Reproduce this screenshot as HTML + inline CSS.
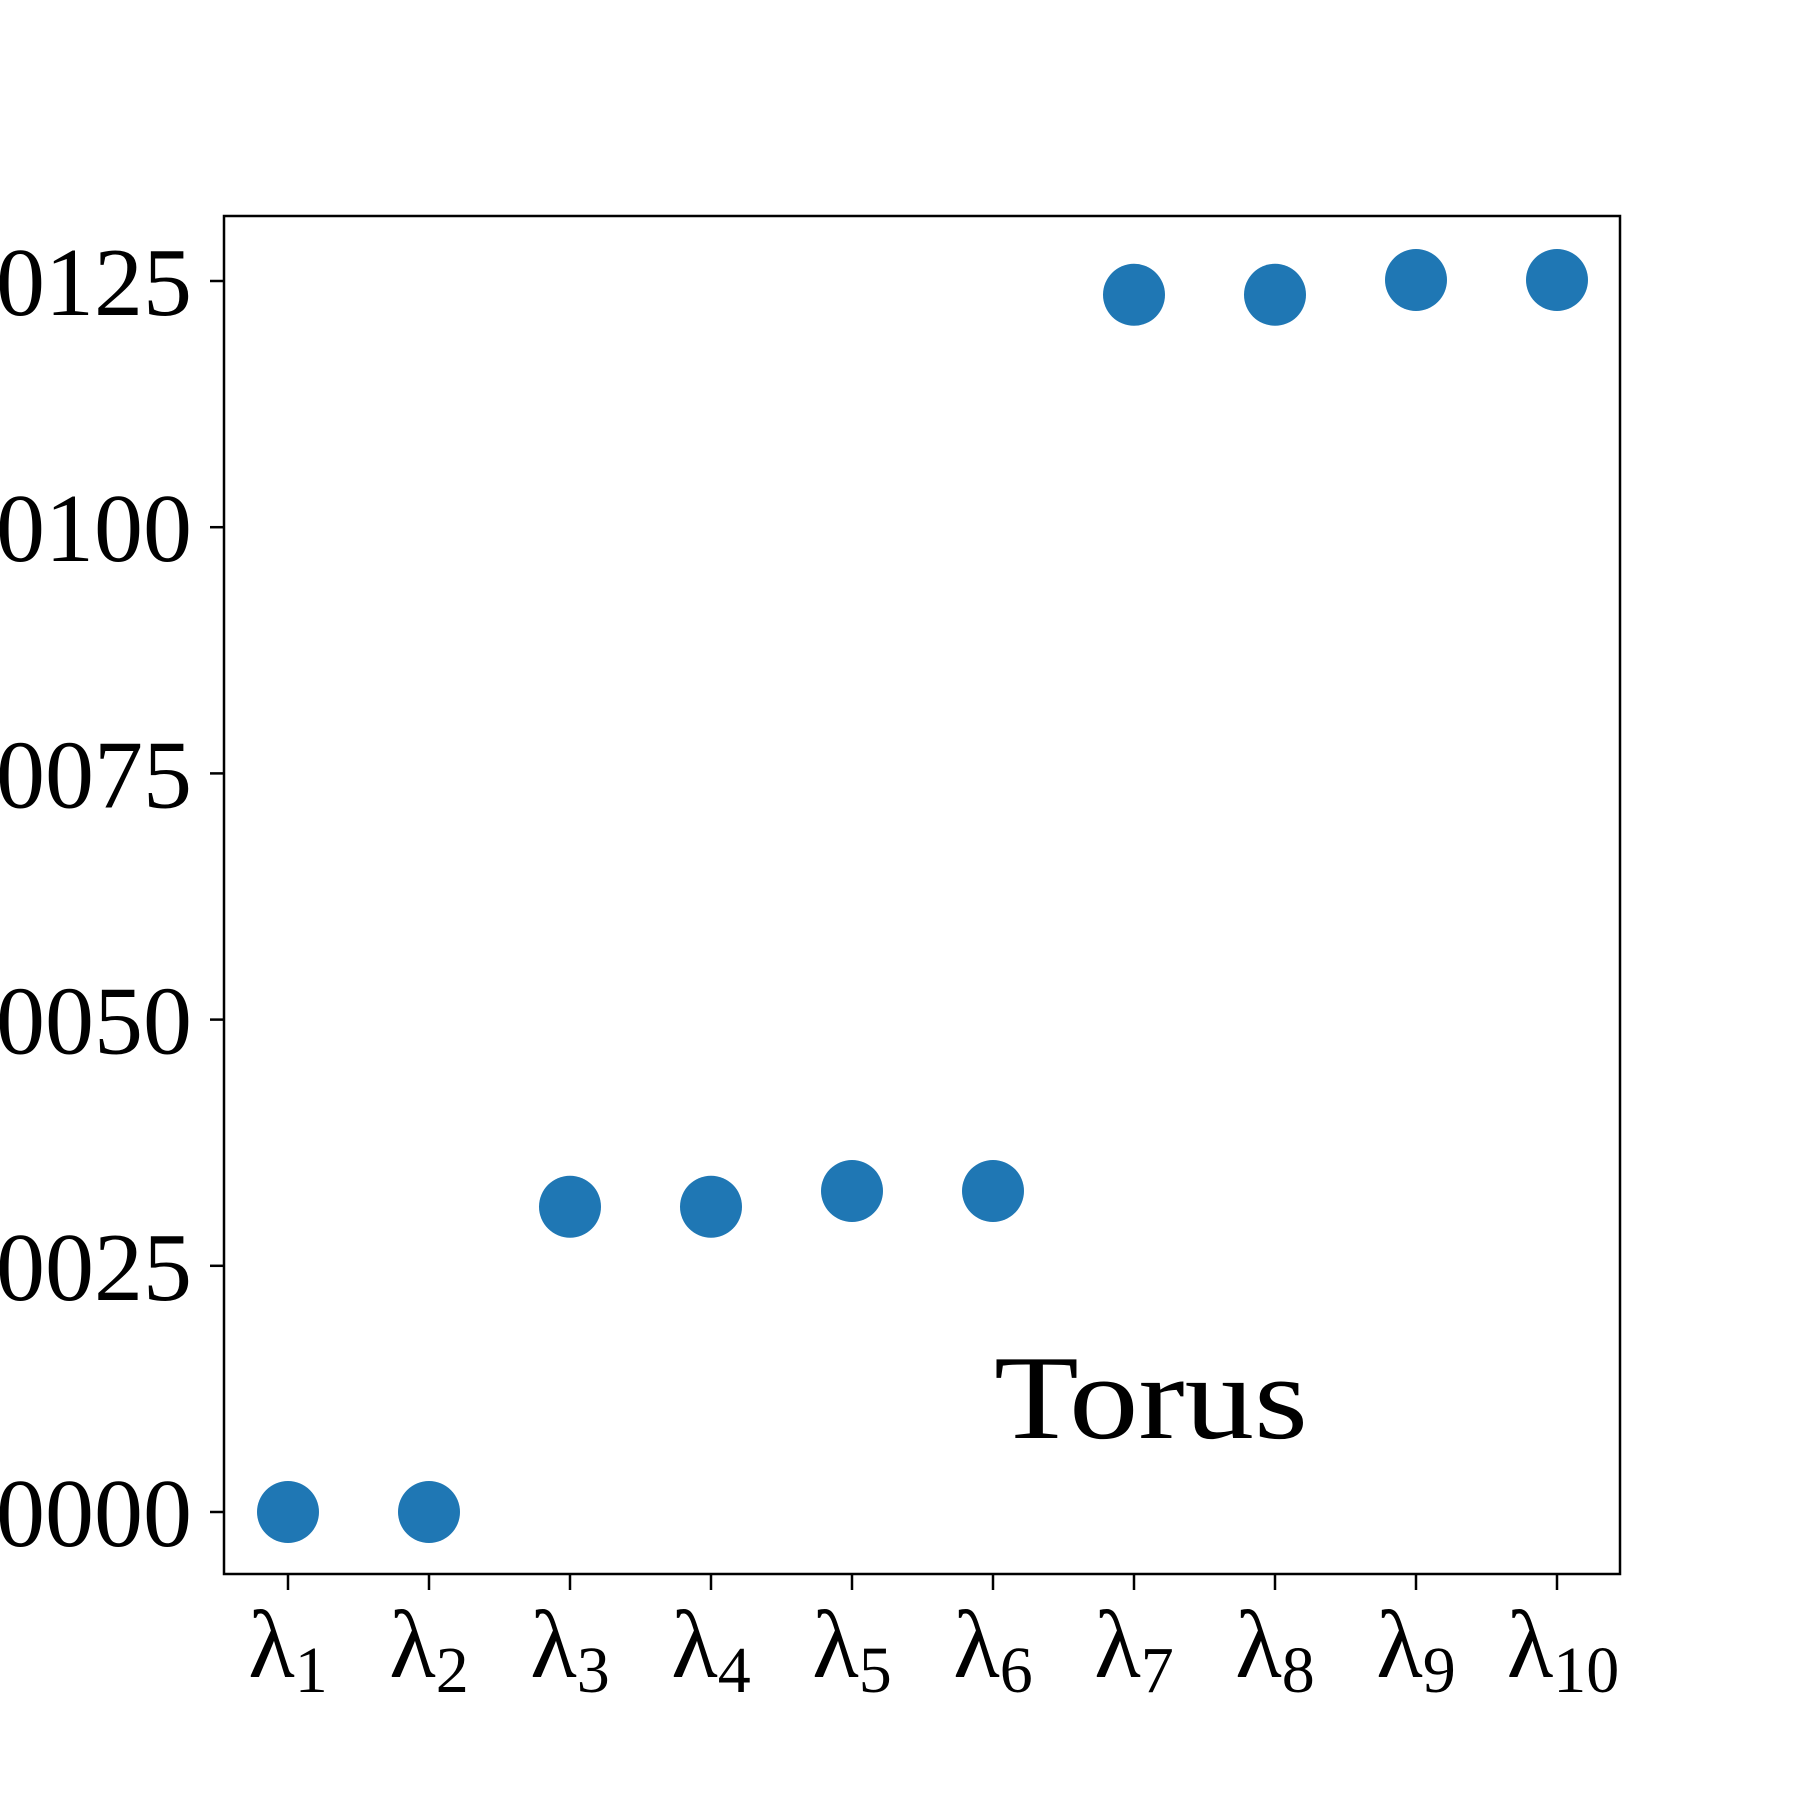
<!DOCTYPE html>
<html><head><meta charset="utf-8"><style>body{margin:0;background:#fff}svg{display:block}</style></head>
<body>
<svg id="chart" width="1800" height="1800" xmlns="http://www.w3.org/2000/svg" font-family="'Liberation Serif', 'DejaVu Serif', serif"></svg>
<script>
const categories = ["1","2","3","4","5","6","7","8","9","10"];
const values = [0, 0, 0.0031, 0.0031, 0.00326, 0.00326, 0.01236, 0.01236, 0.01251, 0.01251];
const yTicks = [0, 0.0025, 0.005, 0.0075, 0.01, 0.0125];
const yTickLabels = ["0.0000","0.0025","0.0050","0.0075","0.0100","0.0125"];

const NS = "http://www.w3.org/2000/svg";
const svg = document.getElementById('chart');
const L = 224, R = 1620, T = 216, B = 1574;
const x = i => 288 + i * 141;
const y = v => 1512 - v / 0.0025 * 246.2;
function mk(tag, attrs, parent) {
  const e = document.createElementNS(NS, tag);
  for (const k in attrs) e.setAttribute(k, attrs[k]);
  (parent || svg).appendChild(e);
  return e;
}
const frame = mk('rect', {x: L, y: T, width: R - L, height: B - T, fill: 'none', stroke: '#000', 'stroke-width': 2.5});



yTicks.forEach((v, i) => {
  const t = mk('line', {x1: L - 14, x2: L, y1: y(v), y2: y(v), stroke: '#000', 'stroke-width': 2.5});
  
  
  const lb = mk('text', {x: 192, y: y(v) + 34, 'text-anchor': 'end', 'font-size': 98});
  
  
  lb.textContent = yTickLabels[i];
});

categories.forEach((c, i) => {
  const t = mk('line', {x1: x(i), x2: x(i), y1: B, y2: B + 16, stroke: '#000', 'stroke-width': 2.5});
  
  
  const lb = mk('text', {x: x(i) + (c.length > 1 ? 6 : 0), y: 1677, 'text-anchor': 'middle', 'font-size': 96});
  
  
  lb.textContent = 'λ';
  const s = mk('tspan', {'font-size': 66, dy: 15}, lb);
  s.textContent = c;
});

values.forEach((v, i) => {
  const d = mk('circle', {cx: x(i), cy: y(v), r: 31, fill: '#1f77b4'});
  
  
});

const tt = mk('text', {x: 994, y: 1438, 'font-size': 120, textLength: 314, lengthAdjust: 'spacingAndGlyphs'});


tt.textContent = 'Torus';
</script>
</body></html>
